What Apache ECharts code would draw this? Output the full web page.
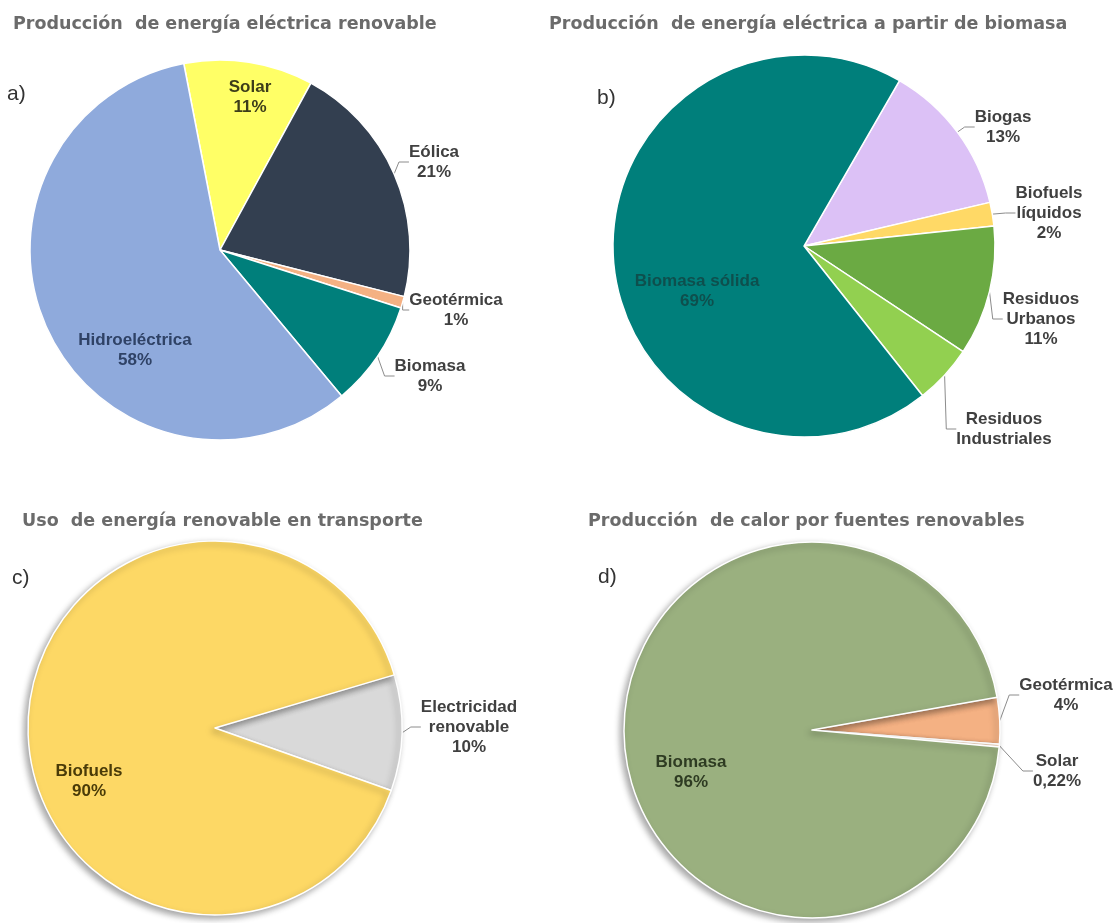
<!DOCTYPE html>
<html>
<head>
<meta charset="utf-8">
<script src="https://cdn.jsdelivr.net/npm/echarts@6/dist/echarts.min.js"></script>
<style>
html,body{margin:0;padding:0;background:#fff;}
#chart{width:1118px;height:923px;}
</style>
</head>
<body>
<div id="chart"></div>
<script>
// ---- data ----
const titles = [
  'Producción  de energía eléctrica renovable',
  'Producción  de energía eléctrica a partir de biomasa',
  'Uso  de energía renovable en transporte',
  'Producción  de calor por fuentes renovables'
];
const panelLetters = ['a)', 'b)', 'c)', 'd)'];

const aNames  = ['Solar', 'Eólica', 'Geotérmica', 'Biomasa', 'Hidroeléctrica'];
const aValues = [11, 21, 1, 9, 58];

const bNames  = ['Biogas', 'Biofuels\nlíquidos', 'Residuos\nUrbanos', 'Residuos\nIndustriales', 'Biomasa sólida'];
const bValues = [13, 2, 11, 5, 69];
const bNoPct  = ['Residuos\nIndustriales'];

const cNames  = ['Electricidad\nrenovable', 'Biofuels'];
const cValues = [10, 90];

const dNames  = ['Geotérmica', 'Solar', 'Biomasa'];
const dValues = [4, 0.22, 96];

// ---- styling / layout ----
const colors = {
  a: ['#FFFF66', '#333F50', '#F4B183', '#007F7B', '#8FAADC'],
  b: ['#DCC1F6', '#FFD966', '#6BAA43', '#92D050', '#007F7B'],
  c: ['#D9D9D9', '#FDD865'],
  d: ['#F4B183', '#FBE0C8', '#9AB07F']
};
const insideLabelColor = {
  a: {'Hidroeléctrica': '#2F4266', 'Solar': '#3D3D1A'},
  b: {'Biomasa sólida': '#0E4F4D'},
  c: {'Biofuels': '#4A3B08'},
  d: {'Biomasa': '#2E3B22'}
};
const insideNames = {
  a: ['Hidroeléctrica', 'Solar'],
  b: ['Biomasa sólida'],
  c: ['Biofuels'],
  d: ['Biomasa']
};
// label block centres, in px relative to each pie centre
const labelPos = {
  a: {'Solar': [30, -153], 'Eólica': [214, -88], 'Geotérmica': [236, 60], 'Biomasa': [210, 126], 'Hidroeléctrica': [-85, 100]},
  b: {'Biogas': [199, -119], 'Biofuels\nlíquidos': [245, -33], 'Residuos\nUrbanos': [237, 73], 'Residuos\nIndustriales': [200, 183], 'Biomasa sólida': [-107, 45]},
  c: {'Electricidad\nrenovable': [254, -1], 'Biofuels': [-126, 53]},
  d: {'Geotérmica': [254, -35], 'Solar': [245, 41], 'Biomasa': [-121, 42]}
};

const labelFont = 'Liberation Sans, Arial, sans-serif';
function pctText(v) { return String(v).replace('.', ',') + '%'; }

function buildSeries(key, names, values, center, radius, startAngle, noPct, shadow) {
  const data = names.map((n, i) => {
    const inside = insideNames[key].indexOf(n) >= 0;
    const item = {
      name: n, value: values[i],
      itemStyle: {color: colors[key][i]}
    };
    if (inside) {
      item.label = {position: 'inside', color: insideLabelColor[key][n]};
      item.labelLine = {show: false};
    }
    return item;
  });
  return {
    type: 'pie',
    center: center,
    radius: radius,
    startAngle: startAngle,
    clockwise: true,
    avoidLabelOverlap: false,
    animation: false,
    itemStyle: Object.assign({borderColor: '#ffffff', borderWidth: 1.5},
      shadow ? {shadowBlur: 6, shadowOffsetX: -3, shadowOffsetY: 3, shadowColor: 'rgba(0,0,0,0.35)'} : {}),
    label: {
      show: true,
      position: 'outside',
      fontFamily: labelFont,
      fontSize: 17,
      fontWeight: 'bold',
      color: '#404040',
      lineHeight: 20,
      formatter: function (p) {
        const lines = p.name.split('\n').map(s => '{c|' + s + '}');
        if (!(noPct && noPct.indexOf(p.name) >= 0)) lines.push('{c|' + pctText(p.value) + '}');
        return lines.join('\n');
      },
      rich: {c: {align: 'center', fontFamily: labelFont, fontSize: 17, fontWeight: 'bold', lineHeight: 20}}
    },
    labelLine: {show: true, length: 8, length2: 10, lineStyle: {color: '#8c8c8c', width: 1}},
    labelLayout: function (p) {
      const pos = labelPos[key][names[p.dataIndex]];
      if (!pos) return {};
      return {x: center[0] + pos[0], y: center[1] + pos[1], align: 'center', verticalAlign: 'middle'};
    },
    emphasis: {disabled: true},
    data: data
  };
}

const titleStyle = {fontFamily: 'DejaVu Sans, sans-serif', fontSize: 17.5, fontWeight: 'bold', color: '#6B6B6B'};
const letterStyle = {fontFamily: 'Liberation Sans, Arial, sans-serif', fontSize: 21, fontWeight: 'normal', color: '#333333'};

const option = {
  backgroundColor: '#ffffff',
  animation: false,
  title: [
    {text: titles[0], left: 13, top: 15, padding: 0, textStyle: titleStyle},
    {text: titles[1], left: 549, top: 15, padding: 0, textStyle: titleStyle},
    {text: titles[2], left: 22, top: 512, padding: 0, textStyle: titleStyle},
    {text: titles[3], left: 588, top: 512, padding: 0, textStyle: titleStyle},
    {text: panelLetters[0], left: 7, top: 84, padding: 0, textStyle: letterStyle},
    {text: panelLetters[1], left: 597, top: 88, padding: 0, textStyle: letterStyle},
    {text: panelLetters[2], left: 12, top: 568, padding: 0, textStyle: letterStyle},
    {text: panelLetters[3], left: 598, top: 567, padding: 0, textStyle: letterStyle}
  ],
  series: [
    buildSeries('a', aNames, aValues, [220, 250], 190, 101, null, false),
    buildSeries('b', bNames, bValues, [804, 246], 191, 60, bNoPct, false),
    buildSeries('c', cNames, cValues, [215, 728], 187, 16.5, null, true),
    buildSeries('d', dNames, dValues, [812, 730], 188, 10, null, true)
  ]
};

const chart = echarts.init(document.getElementById('chart'), null, {renderer: 'canvas'});
chart.setOption(option);
</script>
</body>
</html>
